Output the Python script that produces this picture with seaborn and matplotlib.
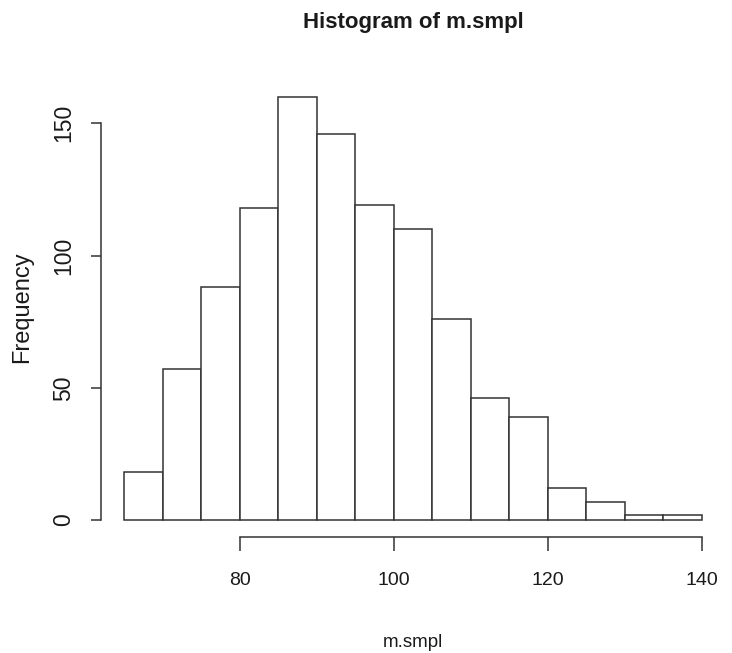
import numpy as np
import pandas as pd
import matplotlib
matplotlib.use("Agg")
import matplotlib.pyplot as plt
import seaborn as sns

# ---- data ----
bin_edges = [65, 70, 75, 80, 85, 90, 95, 100, 105, 110, 115, 120, 125, 130, 135, 140]
counts = [18, 57, 88, 118, 160, 146, 119, 110, 76, 46, 39, 12, 7, 2, 2]
x_ticks = [80, 100, 120, 140]
y_ticks = [0, 50, 100, 150]
title = "Histogram of m.smpl"
x_label = "m.smpl"
y_label = "Frequency"

sns.set_theme(style="white")
regular = ["Liberation Sans", "DejaVu Sans"]
plt.rcParams["font.family"] = regular

W, H = 732, 653
fig = plt.figure(figsize=(W / 100, H / 100), dpi=100)
left, right, top, bottom = 101, 725, 80, 537
ax = fig.add_axes([left / W, 1 - bottom / H, (right - left) / W, (bottom - top) / H])

centers = [(a + b) / 2 for a, b in zip(bin_edges[:-1], bin_edges[1:])]
df = pd.DataFrame({"x": centers, "w": counts})
line_col = "#333333"
text_col = "#1a1a1a"
sns.histplot(data=df, x="x", weights="w", bins=bin_edges, stat="count",
             color="white", edgecolor=line_col, linewidth=1.1, alpha=1, ax=ax)

ax.set_xlim(62, 143)
ax.set_ylim(-6.4, 166.4)
ax.set_facecolor("white")
for s in ["top", "right"]:
    ax.spines[s].set_visible(False)
for s in ["left", "bottom"]:
    ax.spines[s].set_color(line_col)
    ax.spines[s].set_linewidth(1.1)
ax.spines["bottom"].set_bounds(x_ticks[0], x_ticks[-1])
ax.spines["left"].set_bounds(y_ticks[0], y_ticks[-1])

ax.set_xticks(x_ticks)
ax.set_yticks(y_ticks)
ax.tick_params(axis="x", length=10, width=1.1, color=line_col, pad=15,
               labelsize=14, labelcolor=text_col, bottom=True)
ax.tick_params(axis="y", length=7.5, width=1.1, color=line_col, pad=11,
               labelsize=16.5, labelcolor=text_col, left=True, labelrotation=90)
for lab in ax.get_yticklabels():
    lab.set_va("center")

ax.set_title(title, y=1 + 52 / (bottom - top), va="baseline", pad=0,
             fontsize=16, fontweight="bold", color=text_col)
ax.set_xlabel(x_label, fontsize=13.5, color=text_col, va="baseline")
ax.xaxis.set_label_coords(0.5, -(647 - bottom) / (bottom - top))
ax.set_ylabel(y_label, fontsize=17, color=text_col)
ax.yaxis.set_label_coords(-(left - 33) / (right - left), 0.503)

fig.savefig("out.png", dpi=100, facecolor="white")
